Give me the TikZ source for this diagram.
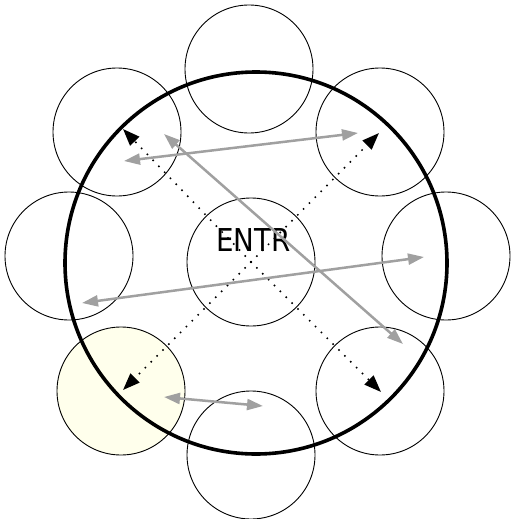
\documentclass[tikz,border=0pt]{standalone}
\usepackage{fontspec}
\setmainfont{DejaVu Sans}
\usetikzlibrary{arrows.meta}
\definecolor{ivory}{RGB}{255,255,236}
\definecolor{arrgray}{RGB}{160,160,160}
\tikzset{
  smallcirc/.style={circle,draw=black,line width=0.9pt,minimum size=128pt,inner sep=0pt},
  bigcirc/.style={circle,draw=black,line width=3.6pt,minimum size=382pt,inner sep=0pt},
  dotarrow/.style={line width=2.2pt,line cap=round,dash pattern=on 0pt off 8.3pt,-{Triangle[length=17pt,width=12.5pt]}},
  grayarrow/.style={draw=arrgray,line width=2.5pt,{Triangle[length=16pt,width=11pt,fill=arrgray]}-{Triangle[length=16pt,width=11pt,fill=arrgray]}}
}
\begin{document}
\begin{tikzpicture}[x=1pt,y=-1pt]
\useasboundingbox (0,0) rectangle (511,519);
% outer circles
\node[smallcirc] (top) at (249,69) {};
\node[smallcirc] (tl) at (117,132) {};
\node[smallcirc] (tr) at (380,132) {};
\node[smallcirc] (lft) at (69,256) {};
\node[smallcirc] (rgt) at (446,256) {};
\node[smallcirc,fill=ivory] (bl) at (121,391) {};
\node[smallcirc] (bot) at (251,455) {};
\node[smallcirc] (br) at (380,391) {};
\node[smallcirc] (c) at (251,262) {};
% big ring
\node[bigcirc] (ring) at (256,263) {};
% label
\node[anchor=base,inner sep=0pt] (lbl) at (253.5,251) {\scalebox{0.88}[1]{\fontsize{31.5}{36}\selectfont ENTR}};
% end points
\coordinate (dTL) at (123,129);
\coordinate (dTR) at (379,133);
\coordinate (dBL) at (123,390);
\coordinate (dBR) at (381,392);
\coordinate (g1a) at (124,161);
\coordinate (g1b) at (358,133);
\coordinate (g2a) at (164,134);
\coordinate (g2b) at (403,344);
\coordinate (g3a) at (82,303);
\coordinate (g3b) at (424,257);
\coordinate (g4a) at (164,397);
\coordinate (g4b) at (263,406);
% dotted arrows
\draw[dotarrow] (c.center) -- (dTL);
\draw[dotarrow] (c.center) -- (dTR);
\draw[dotarrow] (c.center) -- (dBL);
\draw[dotarrow] (c.center) -- (dBR);
% gray double arrows
\draw[grayarrow] (g1a) -- (g1b);
\draw[grayarrow] (g2a) -- (g2b);
\draw[grayarrow] (g3a) -- (g3b);
\draw[grayarrow] (g4a) -- (g4b);
\end{tikzpicture}
\end{document}
